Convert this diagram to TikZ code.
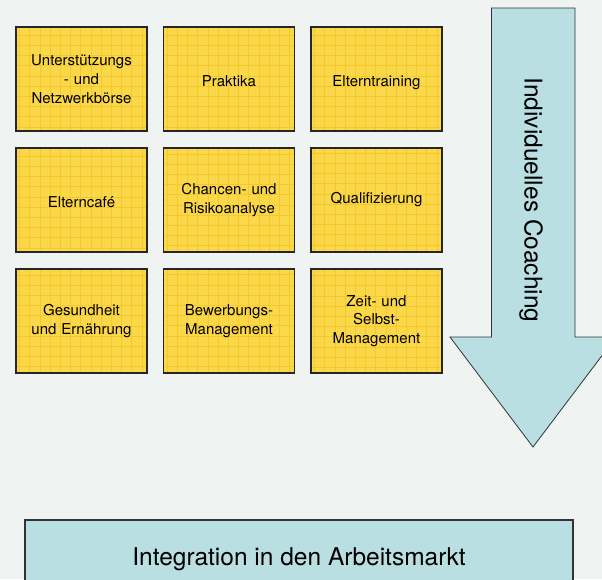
\documentclass[tikz,border=0pt]{standalone}
\usepackage{fontspec}
\setmainfont{TeX Gyre Heros}
\usepackage{tikz}

\definecolor{bgcol}{HTML}{EFF3F2}
\definecolor{boxfill}{HTML}{FBD84A}
\definecolor{boxgrid}{HTML}{F5C92A}
\definecolor{coachblue}{HTML}{B9DFE2}

\tikzset{
    modul/.style={draw=black!85, line width=1.2pt, fill=boxfill,
        minimum width=131pt, minimum height=104pt, text width=124pt,
        align=center, font=\fontsize{15}{18.7}\selectfont,
        path picture={\draw[boxgrid, line width=0.5pt, step=10.2pt]
            (path picture bounding box.south west) grid (path picture bounding box.north east);}},
    einzeilig/.style={text height=14pt, text depth=0pt},
    ziel/.style={draw=black!80, line width=1.2pt, fill=coachblue,
        minimum width=548pt, minimum height=78pt, font=\fontsize{24.5}{29}\selectfont}
}

\begin{document}
\begin{tikzpicture}[x=1pt, y=-1pt]
    \useasboundingbox (0, 0) rectangle (602, 579);
    \fill[bgcol] (0, 0) rectangle (602, 579);
    \clip (0, 0) rectangle (602, 579);

    % module grid
    \node[modul] (boerse) at (81.5, 79) {Unterst\"utzungs\\- und\\Netzwerkb\"orse};
    \node[modul, einzeilig] (praktika) at (229, 79) {Praktika};
    \node[modul, einzeilig] (training) at (376.5, 79) {Elterntraining};
    \node[modul, einzeilig] (cafe) at (81.5, 200) {Elterncaf\'e};
    \node[modul] (chancen) at (229, 200) {Chancen- und\\Risikoanalyse};
    \node[modul] (quali) at (376.5, 200) {Qualifizierung};
    \node[modul] (gesund) at (81.5, 321) {Gesundheit\\und Ern\"ahrung};
    \node[modul] (bewerbung) at (229, 321) {Bewerbungs-\\Management};
    \node[modul] (zeit) at (376.5, 321) {Zeit- und\\Selbst-\\Management};

    % coaching arrow
    \filldraw[fill=coachblue, draw=black!80, line width=0.8pt]
        (491.5, 8) -- (575, 8) -- (575, 337) -- (616, 337) -- (533, 447)
        -- (450, 337) -- (491.5, 337) -- cycle;
    \node[rotate=-90, font=\fontsize{24.5}{29}\selectfont] (coaching) at (531, 200) {Individuelles Coaching};

    \node[ziel] (arbeit) at (299, 559) {Integration in den Arbeitsmarkt};
\end{tikzpicture}
\end{document}
